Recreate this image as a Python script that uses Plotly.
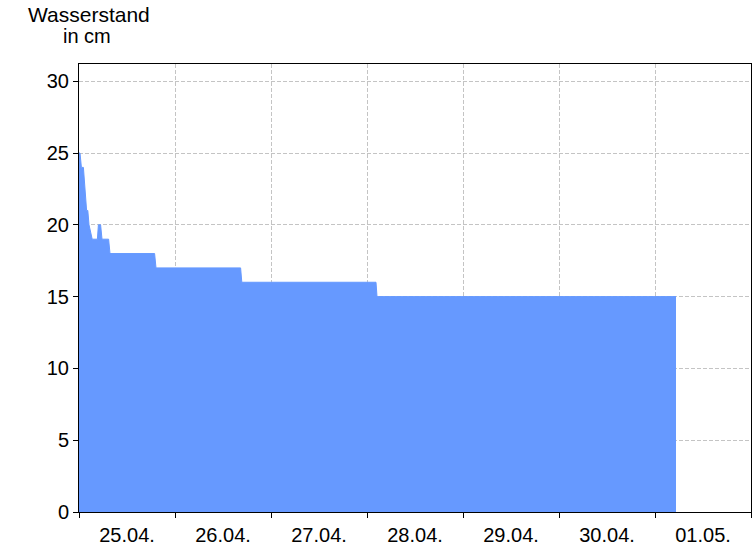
import plotly.graph_objects as go
from datetime import datetime, timedelta

# Data: hours after 25.04. 00:00 and water level in cm
hours = [0.0, 0.25, 0.6, 1.1, 1.9, 2.2, 2.5, 3.3, 4.6, 4.85, 5.4, 5.75, 7.4, 7.75,
         18.9, 19.25, 40.4, 40.7, 74.25, 74.5, 149.25]
level = [25, 25, 24, 24, 21, 21, 20, 19, 19, 20, 20, 19, 19, 18,
         18, 17, 17, 16, 16, 15, 15]

start = datetime(2024, 4, 25)
times = [start + timedelta(hours=h) for h in hours]

y_ticks = [0, 5, 10, 15, 20, 25, 30]

W, H = 756, 546
L, R, T, B = 79, 5, 64, 34
plot_w = W - L - R
plot_h = H - T - B

fig = go.Figure()
fig.add_trace(go.Scatter(
    x=times, y=level, mode="lines", fill="tozeroy",
    line=dict(color="#6699ff", width=1),
    fillcolor="#6699ff", hoverinfo="x+y", showlegend=False,
))

def px_x(px):  # page pixel -> paper x
    return (px - L) / plot_w

def px_y(py):  # page pixel -> paper y
    return 1 - (py - T) / plot_h

fig.update_layout(
    width=W, height=H,
    margin=dict(l=L, r=R, t=T, b=B, autoexpand=False),
    paper_bgcolor="white", plot_bgcolor="white",
    font=dict(family="Liberation Sans, Arial, sans-serif", size=20, color="black"),
    annotations=[
        dict(text="Wasserstand", xref="paper", yref="paper",
             x=px_x(89), y=px_y(14), xanchor="center", yanchor="middle",
             showarrow=False, font=dict(size=21)),
        dict(text="in cm", xref="paper", yref="paper",
             x=px_x(87), y=px_y(36), xanchor="center", yanchor="middle",
             showarrow=False, font=dict(size=20)),
    ],
)
grid = dict(showgrid=True, gridcolor="#c4c4c4", griddash="4px,2px", gridwidth=1)
fig.update_xaxes(
    type="date",
    range=[start, start + timedelta(days=7)],
    dtick=86400000, tick0=start, tickformat="%d.%m.", ticklabelmode="period",
    ticks="outside", ticklen=5, tickcolor="black",
    showline=True, linecolor="black", linewidth=1, mirror=True,
    layer="above traces", zeroline=False, automargin=False, **grid,
)
fig.update_yaxes(
    range=[0, 31.2], tickvals=y_ticks,
    ticks="outside", ticklen=5, tickcolor="black",
    showline=True, linecolor="black", linewidth=1, mirror=True,
    layer="above traces", zeroline=False, automargin=False, **grid,
)

fig.write_html(
    "out.html",
    config={"displayModeBar": False},
    post_script="document.body.style.margin='0';document.body.style.padding='0';",
)
